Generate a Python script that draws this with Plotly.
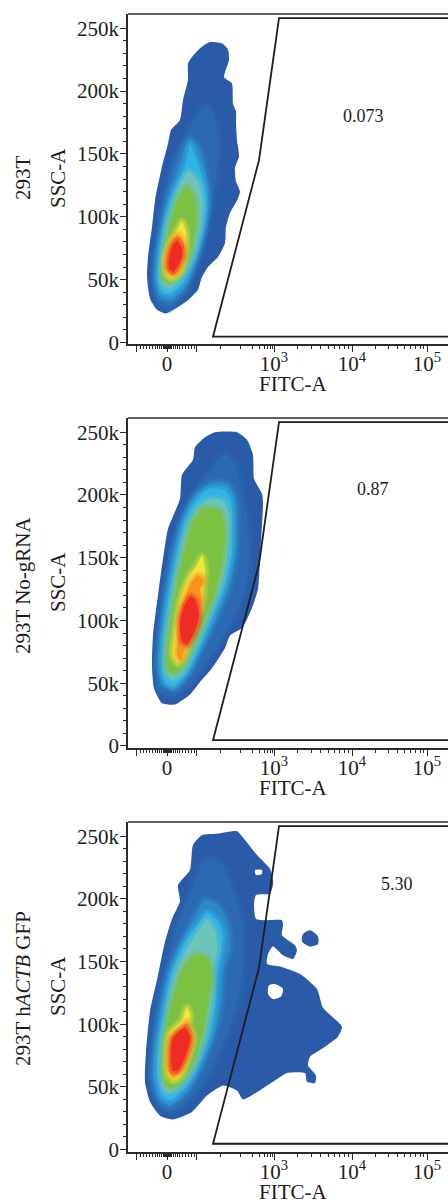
import plotly.graph_objects as go

# x unit: FITC-A display channel (0 tick = 0, 10^3 = 107, 10^4 = 185, 10^5 = 260); y unit: SSC-A in thousands
x_tick_vals = [-31, 0, 29, 107, 185, 260]
x_tick_text = ["", "0", "", "10<sup>3</sup>", "10<sup>4</sup>", "10<sup>5</sup>"]
x_minor_vals = [-27, -24, -21, -18, -15, -12, -10, -8, -6, -4, -3, -2, -1, 1, 2, 3, 4, 6, 8, 10, 12, 15, 18, 21, 24, 27,
                53, 73, 85, 92, 97, 100, 103, 105, 130, 144, 153, 161, 167, 172, 177, 181,
                208, 221, 230, 237, 243, 248, 253, 256]
y_tick_vals = [0, 50, 100, 150, 200, 250]
y_tick_text = ["0", "50k", "100k", "150k", "200k", "250k"]
y_minor_vals = [v for v in range(10, 260, 10) if v % 50]

row_labels = ["293T", "293T No-gRNA", "293T h<i>ACTB</i> GFP"]
gate_percent = ["0.073", "0.87", "5.30"]
gate_x = [300, 46, 92, 112, 300]
gate_y = [4.6, 4.6, 145, 258, 258]
level_fill = ["#2a5ba8", "#2b69b2", "#2c88ca", "#30b3e6", "#6cc4bc", "#7dc143", "#f2e63e", "#f7941f", "#ee2b24"]
level_rgb = ["42,91,168", "43,105,178", "44,136,202", "48,179,230", "108,196,188", "125,193,67", "242,230,62", "247,148,31", "238,43,36"]

# Panel 1
p1_l0_x = [43, 55, 61, 62, 58, 57, 65, 66, 69, 69, 70, 72, 68, 69, 73, 70, 63, 59, 58, 51, 41, 35, 31, 20, 6, -1, -10, -17, -20, -19, -15, -12, -5, 1, 4, 13, 16, 21, 21, 25, 33]
p1_l0_y = [239, 238, 233, 225, 215, 211, 206, 190, 184, 174, 161, 148, 139, 128, 120, 113, 103, 92, 79, 68, 60, 52, 42, 33, 26, 23, 26, 35, 52, 68, 92, 113, 140, 158, 169, 177, 193, 209, 222, 227, 234]
p1_l1_x = [40, 48, 52, 50, 46, 41, 35, 26, 16, 1, -9, -14, -14, -9, -2, 6, 18, 31]
p1_l1_y = [189, 177, 158, 137, 116, 97, 76, 55, 36, 27, 31, 44, 63, 92, 121, 145, 164, 182]
p1_l2_x = [23, 31, 37, 41, 41, 36, 28, 18, 3, -7, -11, -10, -5, 2, 11, 18]
p1_l2_y = [162, 156, 142, 124, 105, 84, 63, 44, 33, 36, 48, 66, 92, 119, 140, 156]
p1_l3_x = [23, 28, 37, 39, 34, 26, 16, 3, -5, -9, -8, -3, 5, 15, 20]
p1_l3_y = [157, 148, 127, 108, 84, 63, 47, 38, 40, 51, 68, 92, 116, 134, 146]
p1_l4_x = [22, 31, 35, 35, 30, 21, 13, 3, -4, -6, -4, 1, 10, 16]
p1_l4_y = [136, 128, 116, 100, 79, 60, 50, 43, 46, 55, 74, 97, 119, 130]
p1_l5_x = [20, 28, 29, 26, 18, 10, 1, -4, -4, 0, 6, 13]
p1_l5_y = [124, 113, 97, 79, 60, 51, 48, 51, 63, 81, 103, 117]
p1_l6_x = [15, 19, 18, 13, 5, 0, -2, 3, 10]
p1_l6_y = [96, 87, 71, 56, 51, 54, 66, 79, 89]
p1_l7_x = [11, 17, 16, 11, 5, 0, 0, 5]
p1_l7_y = [86, 79, 68, 56, 54, 58, 67, 80]
p1_l8_x = [10, 15, 15, 10, 6, 2, 2, 5]
p1_l8_y = [81, 75, 68, 60, 56, 59, 67, 76]

# Panel 2
p2_l0_x = [48, 70, 80, 86, 87, 95, 96, 93, 91, 85, 75, 63, 58, 45, 33, 23, 8, -5, -13, -15, -14, -9, -4, 1, 13, 15, 26, 28, 38]
p2_l0_y = [250, 250, 244, 232, 213, 201, 194, 149, 125, 110, 94, 88, 78, 62, 51, 41, 33, 34, 46, 64, 88, 120, 149, 173, 197, 216, 228, 238, 246]
p2_l1_x = [58, 68, 73, 80, 83, 80, 70, 53, 36, 20, 5, -7, -10, -9, -4, 5, 13, 30, 46]
p2_l1_y = [232, 225, 208, 181, 155, 131, 107, 83, 62, 46, 39, 43, 59, 86, 120, 155, 181, 205, 222]
p2_l2_x = [45, 61, 68, 70, 69, 63, 51, 36, 23, 8, -4, -9, -7, -2, 6, 16, 28]
p2_l2_y = [210, 209, 198, 179, 155, 128, 104, 80, 59, 46, 49, 64, 86, 118, 155, 181, 200]
p2_l3_x = [43, 58, 64, 65, 65, 58, 46, 33, 20, 6, -2, -5, -4, 1, 10, 18, 30]
p2_l3_y = [205, 204, 196, 176, 155, 128, 104, 80, 59, 47, 51, 64, 86, 115, 152, 179, 197]
p2_l4_x = [41, 55, 61, 62, 60, 53, 41, 28, 16, 6, 0, -2, 0, 6, 13, 21, 31]
p2_l4_y = [196, 196, 187, 171, 149, 125, 102, 78, 59, 53, 57, 70, 91, 123, 152, 176, 190]
p2_l5_x = [43, 53, 58, 56, 50, 38, 26, 16, 8, 1, 0, 4, 10, 18, 26, 35]
p2_l5_y = [190, 187, 173, 152, 128, 102, 80, 64, 58, 60, 75, 99, 128, 157, 179, 188]
p2_l6_x = [35, 38, 37, 36, 31, 23, 16, 11, 6, 8, 13, 21, 30]
p2_l6_y = [151, 141, 131, 120, 104, 86, 70, 66, 72, 91, 115, 133, 144]
p2_l7_x = [31, 37, 33, 35, 31, 25, 17, 14, 10, 12, 15, 20, 25]
p2_l7_y = [136, 132, 125, 115, 102, 88, 75, 68, 72, 91, 110, 122, 131]
p2_l8_x = [24, 29, 32, 27, 20, 15, 13, 17]
p2_l8_y = [119, 115, 103, 90, 81, 84, 99, 111]

# Panel 3
p3_l0_x = [106, 103, 89, 87, 89, 98, 115, 116, 115, 128, 130, 126, 116, 106, 101, 100, 113, 133, 150, 156, 175, 171, 158, 143, 141, 149, 148, 140, 138, 120, 106, 76, 70, 56, 40, 25, 6, -7, -17, -22, -21, -17, -9, -2, 5, 13, 11, 23, 26, 35, 50, 70, 78, 90, 103, 106]
p3_l0_y = [211, 204, 203, 195, 184, 183, 183, 179, 171, 163, 159, 152, 155, 162, 156, 148, 146, 140, 128, 113, 98, 90, 82, 74, 67, 59, 53, 54, 61, 61, 54, 40, 47, 51, 43, 30, 24, 27, 38, 54, 78, 110, 139, 166, 184, 198, 211, 223, 243, 251, 252, 254, 247, 235, 224, 215]
p3_island_x = [143, 151, 151, 143, 135, 136]
p3_island_y = [175, 170, 164, 162, 166, 172]
p3_hole_a_x = [88, 95, 95, 89]
p3_hole_a_y = [223, 223, 220, 219]
p3_hole_b_x = [108, 116, 114, 106, 101, 102]
p3_hole_b_y = [132, 128, 122, 120, 124, 131]
p3_l1_x = [43, 56, 66, 76, 76, 73, 63, 51, 35, 16, 1, -10, -17, -15, -9, 0, 10, 25, 35]
p3_l1_y = [233, 226, 206, 179, 152, 126, 99, 75, 51, 35, 30, 38, 57, 86, 118, 147, 179, 208, 227]
p3_l2_x = [38, 51, 61, 63, 56, 55, 48, 35, 20, 3, -7, -14, -12, -5, 3, 15, 28]
p3_l2_y = [199, 195, 180, 160, 142, 120, 94, 67, 46, 35, 39, 57, 83, 118, 144, 166, 187]
p3_l3_x = [40, 51, 56, 53, 50, 48, 43, 31, 18, 3, -5, -10, -9, -2, 5, 18, 31]
p3_l3_y = [189, 182, 171, 152, 139, 115, 91, 67, 49, 39, 43, 59, 83, 115, 142, 166, 180]
p3_l4_x = [40, 48, 50, 46, 45, 38, 28, 16, 3, -4, -6, -5, 1, 8, 20, 31]
p3_l4_y = [183, 174, 158, 144, 118, 91, 67, 53, 45, 49, 62, 83, 113, 139, 160, 174]
p3_l5_x = [31, 41, 45, 40, 36, 28, 15, 3, -2, -4, -2, 5, 15, 23]
p3_l5_y = [156, 152, 136, 115, 94, 73, 55, 49, 54, 67, 91, 118, 142, 152]
p3_l6_x = [20, 23, 22, 26, 21, 13, 6, 1, 0, 3, 15, 18]
p3_l6_y = [113, 107, 99, 89, 73, 58, 55, 59, 75, 93, 103, 110]
p3_l7_x = [20, 25, 20, 12, 6, 2, 2, 5, 15]
p3_l7_y = [102, 89, 73, 61, 58, 62, 75, 90, 97]
p3_l8_x = [18, 23, 18, 11, 6, 4, 6]
p3_l8_y = [97, 89, 74, 63, 63, 73, 89]

panel_levels = [
    [(p1_l0_x, p1_l0_y), (p1_l1_x, p1_l1_y), (p1_l2_x, p1_l2_y), (p1_l3_x, p1_l3_y), (p1_l4_x, p1_l4_y), (p1_l5_x, p1_l5_y), (p1_l6_x, p1_l6_y), (p1_l7_x, p1_l7_y), (p1_l8_x, p1_l8_y)],
    [(p2_l0_x, p2_l0_y), (p2_l1_x, p2_l1_y), (p2_l2_x, p2_l2_y), (p2_l3_x, p2_l3_y), (p2_l4_x, p2_l4_y), (p2_l5_x, p2_l5_y), (p2_l6_x, p2_l6_y), (p2_l7_x, p2_l7_y), (p2_l8_x, p2_l8_y)],
    [(p3_l0_x, p3_l0_y), (p3_l1_x, p3_l1_y), (p3_l2_x, p3_l2_y), (p3_l3_x, p3_l3_y), (p3_l4_x, p3_l4_y), (p3_l5_x, p3_l5_y), (p3_l6_x, p3_l6_y), (p3_l7_x, p3_l7_y), (p3_l8_x, p3_l8_y)],
]
gate_label_x = [196, 206, 230]
gate_label_y = [180, 205, 212]

# Layout (pixels of the 448x1201 page)
W, H = 448, 1201
FONT = "Liberation Serif"
INK = "#2b2b2b"
TEXT = "#1c1c1c"
frames = [(14, 344), (418, 748), (822, 1152)]
x_range = [-39, 281]
y_ranges = [[-1.2, 261.3], [-1.6, 261.3], [-2, 261.3]]
ssc_centre = [178, 582, 986]
row_centre = [178, 585, 989]


def closed(v):
    return list(v) + [v[0]]


def blob(axis_x, axis_y, x, y, fill, edge, width, smooth=0.7):
    return go.Scatter(x=closed(x), y=closed(y), xaxis=axis_x, yaxis=axis_y, mode="lines", fill="toself",
                      fillcolor=fill, line=dict(color=edge, width=width, shape="spline", smoothing=smooth),
                      hoverinfo="skip", showlegend=False)


def halo(axis_x, axis_y, x, y, rgb, alpha, width):
    return go.Scatter(x=closed(x), y=closed(y), xaxis=axis_x, yaxis=axis_y, mode="lines", fill="none",
                      line=dict(color=f"rgba({rgb},{alpha})", width=width, shape="spline", smoothing=0.7),
                      hoverinfo="skip", showlegend=False)


def centred(**kw):
    return dict(showarrow=False, xanchor="center", yanchor="middle", **kw)


fig = go.Figure()
layout = {}
annotations = []
shapes = []
for i, (top, bottom) in enumerate(frames):
    suffix = "" if i == 0 else str(i + 1)
    ax, ay = "x" + suffix, "y" + suffix
    for j, (lx, ly) in enumerate(panel_levels[i]):
        if j > 0:
            fig.add_trace(halo(ax, ay, lx, ly, level_rgb[j], 0.22, 9))
            fig.add_trace(halo(ax, ay, lx, ly, level_rgb[j], 0.35, 5))
        fig.add_trace(blob(ax, ay, lx, ly, level_fill[j], f"rgba({level_rgb[j]},0)", 0, 0.55 if j == 0 else 0.7))
        if i == 2 and j == 0:
            fig.add_trace(blob(ax, ay, p3_island_x, p3_island_y, level_fill[0], f"rgba({level_rgb[0]},0)", 0))
            fig.add_trace(blob(ax, ay, p3_hole_a_x, p3_hole_a_y, "white", "white", 0))
            fig.add_trace(blob(ax, ay, p3_hole_b_x, p3_hole_b_y, "white", "white", 0))
    fig.add_trace(go.Scatter(x=gate_x, y=gate_y, xaxis=ax, yaxis=ay, mode="lines",
                             line=dict(color="#1e1e1e", width=1.8), hoverinfo="skip", showlegend=False))
    layout["xaxis" + suffix] = dict(
        domain=[128 / W, 1], range=x_range, anchor=ay, showgrid=False, zeroline=False, automargin=False,
        showline=True, linecolor=INK, linewidth=1.6, ticks="outside", ticklen=6, tickwidth=1.2, tickcolor=INK,
        tickmode="array", tickvals=x_tick_vals, ticktext=x_tick_text, ticklabelstandoff=-6,
        tickfont=dict(family=FONT, size=21, color=TEXT),
        minor=dict(tickmode="array", tickvals=x_minor_vals, ticks="outside", ticklen=3, tickwidth=1, tickcolor=INK, showgrid=False),
    )
    layout["yaxis" + suffix] = dict(
        domain=[1 - bottom / H, 1 - top / H], range=y_ranges[i], anchor=ax, showgrid=False, zeroline=False, automargin=False,
        showline=True, linecolor=INK, linewidth=1.6, ticks="outside", ticklen=6, tickwidth=1.2, tickcolor=INK,
        tickmode="array", tickvals=y_tick_vals, ticktext=y_tick_text, ticklabelstandoff=-3,
        tickfont=dict(family=FONT, size=21, color=TEXT),
        minor=dict(tickmode="array", tickvals=y_minor_vals, ticks="outside", ticklen=3.5, tickwidth=1, tickcolor=INK, showgrid=False),
    )
    shapes.append(dict(type="line", xref="paper", yref="paper", x0=128 / W, x1=1, y0=1 - top / H, y1=1 - top / H,
                       line=dict(color=INK, width=1.6)))
    annotations.append(centred(x=gate_label_x[i], y=gate_label_y[i], xref=ax, yref=ay, text=gate_percent[i],
                               font=dict(family=FONT, size=18, color=TEXT)))
    annotations.append(centred(x=293 / W, y=1 - (bottom + 40) / H, xref="paper", yref="paper", text="FITC-A",
                               font=dict(family=FONT, size=21, color=TEXT)))
    annotations.append(centred(x=58 / W, y=1 - ssc_centre[i] / H, xref="paper", yref="paper", text="SSC-A", textangle=-90,
                               font=dict(family=FONT, size=21, color=TEXT)))
    annotations.append(centred(x=23 / W, y=1 - row_centre[i] / H, xref="paper", yref="paper", text=row_labels[i], textangle=-90,
                               font=dict(family=FONT, size=21, color=TEXT)))

fig.update_layout(width=W, height=H, margin=dict(l=0, r=0, t=0, b=0), paper_bgcolor="white", plot_bgcolor="white",
                  showlegend=False, annotations=annotations, shapes=shapes, **layout)
fig.write_html("out.html", config={"displayModeBar": False},
               post_script="document.body.style.margin='0';document.documentElement.style.overflow='hidden';")
